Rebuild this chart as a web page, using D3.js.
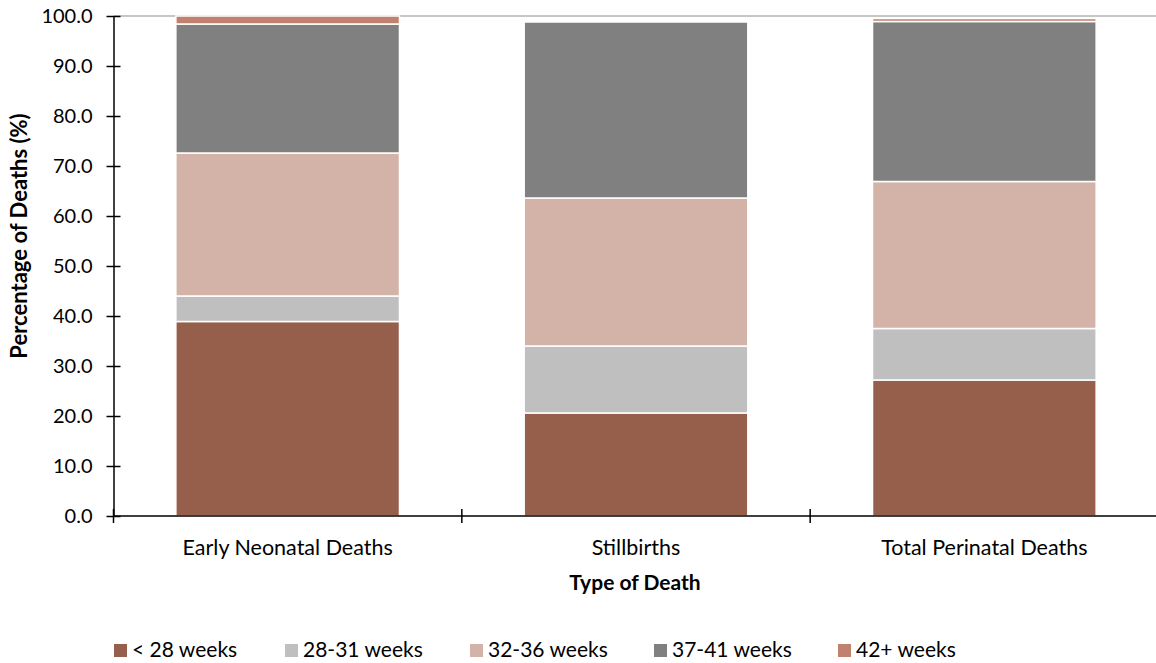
<!DOCTYPE html>
<html><head><meta charset="utf-8">
<script src="https://cdn.jsdelivr.net/npm/d3@7"></script>
<style>
html,body{margin:0;padding:0;background:#fff;}
svg{display:block;font-family:Lato, "Open Sans", sans-serif;}
</style></head>
<body><svg id="chart" width="1156" height="663"></svg>
<script>
const categories = ["Early Neonatal Deaths", "Stillbirths", "Total Perinatal Deaths"];
const seriesNames = ["< 28 weeks", "28-31 weeks", "32-36 weeks", "37-41 weeks", "42+ weeks"];
const lt28 = [38.9, 20.6, 27.2];
const w28_31 = [5.1, 13.4, 10.3];
const w32_36 = [28.6, 29.6, 29.4];
const w37_41 = [25.8, 35.2, 32.0];
const w42plus = [1.6, 0.0, 0.6];
const yTicks = [0, 10, 20, 30, 40, 50, 60, 70, 80, 90, 100];
const colors = ["#955F4B", "#BFBFBF", "#D3B3A8", "#808080", "#C0826F"];

const seriesValues = [lt28, w28_31, w32_36, w37_41, w42plus];
const rows = categories.map((c, i) => {
  const r = {cat: c};
  seriesNames.forEach((s, j) => r[s] = seriesValues[j][i]);
  return r;
});
const stacked = d3.stack().keys(seriesNames)(rows);

const svg = d3.select("#chart");
const mLeft = 113.5, mRight = 1158.5, mTop = 16, mBottom = 516;

const x = d3.scaleBand().domain(categories).range([mLeft, mRight]).paddingInner(0.358).paddingOuter(0.179);
const y = d3.scaleLinear().domain([0, 100]).range([mBottom, mTop]);
const color = d3.scaleOrdinal().domain(seriesNames).range(colors);

// top border line
svg.append("line").attr("x1", mLeft).attr("x2", 1156).attr("y1", y(100)).attr("y2", y(100))
  .attr("stroke", "#b3b3b3").attr("stroke-width", 1.5);

// bars
svg.append("g").selectAll("g").data(stacked).join("g")
  .attr("fill", d => color(d.key))
  .selectAll("rect").data(d => d.filter(p => p[1] - p[0] > 0)).join("rect")
  .attr("x", d => x(d.data.cat))
  .attr("width", x.bandwidth())
  .attr("y", d => y(d[1]))
  .attr("height", d => y(d[0]) - y(d[1]))
  .attr("stroke", "#fff").attr("stroke-width", 1.5);

// y axis
const yAxis = d3.axisLeft(y).tickValues(yTicks).tickFormat(d3.format(".1f")).tickSize(0).tickPadding(21);
const gy = svg.append("g").attr("transform", `translate(${mLeft},0)`).call(yAxis);
gy.select(".domain").attr("stroke", "#000").attr("stroke-width", 1.5);
gy.selectAll(".tick text").attr("font-size", 20).attr("fill", "#000").attr("font-family", "Lato");
gy.selectAll(".tick").append("line").attr("x1", -7).attr("x2", 7).attr("stroke", "#000").attr("stroke-width", 1.5);

// x axis
const gx = svg.append("g").attr("transform", `translate(0,${mBottom})`);
gx.append("line").attr("x1", mLeft).attr("x2", 1156).attr("stroke", "#000").attr("stroke-width", 1.5);
const step = x.step();
const bounds = d3.range(categories.length + 1).map(i => mLeft + i * step);
gx.selectAll("line.tk").data(bounds).join("line").attr("class", "tk")
  .attr("x1", d => d).attr("x2", d => d).attr("y1", -7).attr("y2", 7)
  .attr("stroke", "#000").attr("stroke-width", 1.5);
gx.selectAll("text").data(categories).join("text")
  .attr("x", d => x(d) + x.bandwidth() / 2).attr("y", 39)
  .attr("text-anchor", "middle").attr("font-size", 21.5).text(d => d);

// axis titles
svg.append("text").attr("x", (mLeft + mRight) / 2 - 1).attr("y", 590)
  .attr("text-anchor", "middle").attr("font-size", 21).attr("font-weight", "bold").text("Type of Death");
svg.append("text").attr("transform", `translate(27,236) rotate(-90)`)
  .attr("text-anchor", "middle").attr("font-size", 22).attr("font-weight", "bold").text("Percentage of Deaths (%)");

// legend
const legendX = [114, 285, 470, 654, 838];
const lg = svg.append("g").selectAll("g").data(seriesNames).join("g")
  .attr("transform", (d, i) => `translate(${legendX[i]},650)`);
lg.append("rect").attr("x", 0).attr("y", -6).attr("width", 13).attr("height", 13).attr("fill", d => color(d));
lg.append("text").attr("x", 18).attr("y", 7).attr("font-size", 21).text(d => d);
</script></body></html>
